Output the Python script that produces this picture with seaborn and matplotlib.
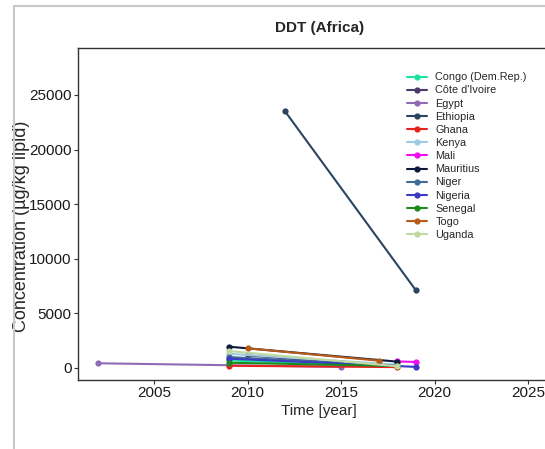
import pandas as pd
import matplotlib
matplotlib.use("Agg")
import matplotlib.pyplot as plt
import seaborn as sns

# DDT concentration in human milk / lipid, per country (ug/kg lipid)
countries = ["Congo (Dem.Rep.)", "Côte d'Ivoire", "Egypt", "Ethiopia", "Ghana",
             "Kenya", "Mali", "Mauritius", "Niger", "Nigeria", "Senegal",
             "Togo", "Uganda"]

years = {
    "Congo (Dem.Rep.)": [2009, 2015],
    "Côte d'Ivoire": [2010, 2015],
    "Egypt": [2002, 2015],
    "Ethiopia": [2012, 2019],
    "Ghana": [2009, 2018],
    "Kenya": [2009, 2018],
    "Mali": [2018, 2019],
    "Mauritius": [2009, 2018],
    "Niger": [2009, 2015],
    "Nigeria": [2009, 2019],
    "Senegal": [2009, 2018],
    "Togo": [2010, 2017],
    "Uganda": [2009, 2018],
}

conc = {
    "Congo (Dem.Rep.)": [700, 250],
    "Côte d'Ivoire": [1150, 480],
    "Egypt": [430, 100],
    "Ethiopia": [23500, 7100],
    "Ghana": [200, 80],
    "Kenya": [1300, 300],
    "Mali": [600, 550],
    "Mauritius": [1950, 580],
    "Niger": [1000, 450],
    "Nigeria": [850, 100],
    "Senegal": [480, 180],
    "Togo": [1800, 670],
    "Uganda": [1550, 150],
}

colors = ["#1ee3a0", "#4b3b6b", "#8e6bb5", "#2b4560", "#e8221f", "#9ec9e2",
          "#f00cf0", "#0d1a3d", "#3f6a99", "#3a3ac4", "#1e8a1e", "#b85a18",
          "#bfd9a0"]

rows = []
for c in countries:
    for yr, v in zip(years[c], conc[c]):
        rows.append([c, yr, v])
df = pd.DataFrame(rows, columns=["country", "year", "conc"])

sns.set_style("white")
plt.rcParams["font.family"] = ["Liberation Sans", "DejaVu Sans"]

fig = plt.figure(figsize=(5.45, 4.49), dpi=100)
ax = fig.add_axes([0.1431, 0.1537, 0.8844, 0.7394])

sns.lineplot(
    data=df, x="year", y="conc",
    hue="country", hue_order=countries,
    palette=dict(zip(countries, colors)),
    marker="o", markersize=4.5, markeredgewidth=0,
    linewidth=1.5, ax=ax
)

ax.set_xlim(2000.93, 2026.7)
ax.set_ylim(-1100, 29300)
ax.set_xticks([2005, 2010, 2015, 2020, 2025])
ax.set_yticks([0, 5000, 10000, 15000, 20000, 25000])
ax.tick_params(axis="both", length=3, width=0.8,
               color="#333333", labelcolor="#1a1a1a", direction="out",
               bottom=True, left=True, pad=1.5)
ax.tick_params(axis="x", labelsize=11)
ax.tick_params(axis="y", labelsize=11)

for s in ax.spines.values():
    s.set_color("#333333")
    s.set_linewidth(1.0)

ax.set_xlabel("Time [year]", fontsize=11, labelpad=3)
ax.set_ylabel("Concentration (µg/kg lipid)", fontsize=13)
ax.yaxis.set_label_coords(-0.1, 0.464)

fig.text(0.586, 0.937, "DDT (Africa)", ha="center", va="center",
         fontsize=11, fontweight="bold")

leg = ax.legend(loc="upper left", bbox_to_anchor=(0.737, 0.851),
                bbox_transform=fig.transFigure, frameon=False,
                fontsize=7.8, handlelength=1.8, handletextpad=0.8,
                labelspacing=0.29, borderpad=0)

# screenshot frame
fig.add_artist(plt.Line2D([0.026, 0.026], [0, 0.987], transform=fig.transFigure,
                          color="#c8c8c8", lw=1.5))
fig.add_artist(plt.Line2D([0.026, 1], [0.987, 0.987], transform=fig.transFigure,
                          color="#c8c8c8", lw=1.5))

fig.savefig("out.png", dpi=100)
